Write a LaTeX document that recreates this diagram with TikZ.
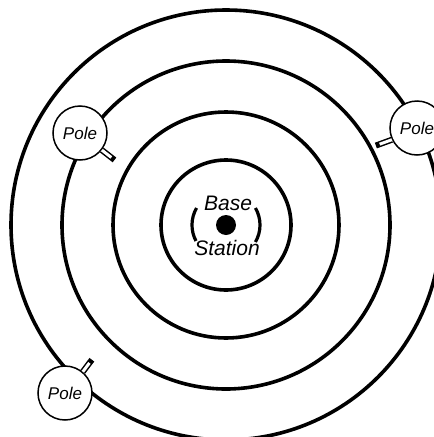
\documentclass[tikz,border=0pt]{standalone}
\usepackage{fontspec}
\setmainfont{Liberation Sans}
\usetikzlibrary{calc}
\begin{document}
\begin{tikzpicture}[x=1pt,y=-1pt,
 ring/.style={draw=black, line width=3.6pt},
 pole/.style={circle, draw=black, line width=1.5pt, fill=white, minimum size=54pt, inner sep=0pt, font=\fontsize{17}{17}\selectfont\itshape},
 lbl/.style={font=\fontsize{21}{21}\selectfont\itshape, inner sep=0pt},
 stubout/.style={line width=6pt, draw=black},
 stubin/.style={line width=3pt, draw=white},
]
\useasboundingbox (0,0) rectangle (434,437);
\coordinate (c) at (226,225);
\draw[ring] (c) circle[radius=65pt];
\draw[ring] (c) circle[radius=113pt];
\draw[ring] (c) circle[radius=164pt];
\draw[ring] (c) circle[radius=215pt];
% base station
\node[circle, fill=black, minimum size=20pt, inner sep=0pt] (bs) at (c) {};
\node[lbl] (base) at (228,203) {Base};
\node[lbl] (station) at (227,248) {Station};
\draw[line width=3.2pt] ($(bs.center)+(150:34pt)$) arc[start angle=150, end angle=208, radius=34pt];
\draw[line width=3.2pt] ($(bs.center)+(30:34pt)$) arc[start angle=30, end angle=-30, radius=34pt];
% poles
\node[pole] (p1) at (80,133) {Pole};
\node[pole] (p2) at (417,128) {Pole};
\node[pole] (p3) at (65,393) {Pole};
% stubs
\coordinate (s1) at ($(p1.-38)+(-38:16pt)$);
\coordinate (s2) at ($(p2.205)+(200:17pt)$);
\coordinate (s3) at ($(p3.50)+(53:15pt)$);
\draw[stubout] (p1.-38) -- (s1);
\draw[stubin] (p1.-38) -- ($(s1)!4pt!(p1.-38)$);
\draw[stubout] (p2.205) -- (s2);
\draw[stubin] (p2.205) -- ($(s2)!4pt!(p2.205)$);
\draw[stubout] (p3.50) -- (s3);
\draw[stubin] (p3.50) -- ($(s3)!4pt!(p3.50)$);
\end{tikzpicture}
\end{document}
